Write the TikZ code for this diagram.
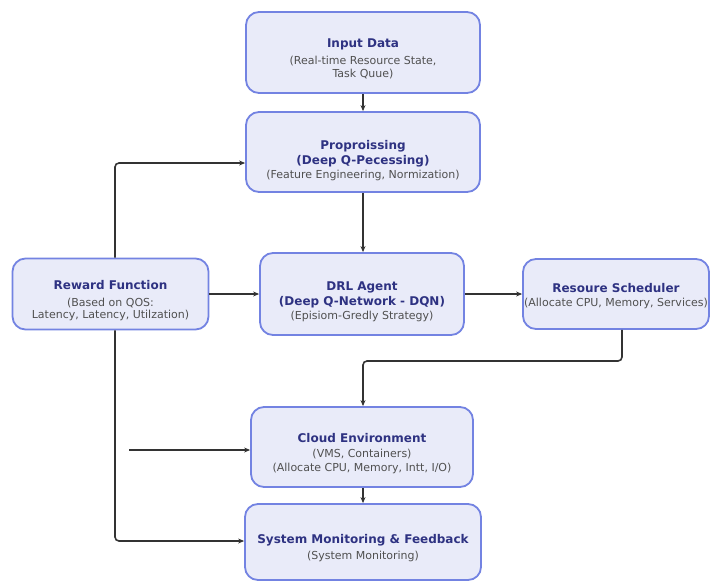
\documentclass[tikz,border=0pt]{standalone}
\usepackage{fontspec}
\setmainfont{DejaVu Sans}
\usetikzlibrary{arrows.meta,calc}
\definecolor{boxfill}{HTML}{E9EBF9}
\definecolor{boxdraw}{HTML}{7383E2}
\definecolor{titlec}{HTML}{2E3282}
\definecolor{subc}{HTML}{505050}
\definecolor{linec}{HTML}{333333}
\newcommand{\ttl}[1]{{\fontsize{12}{14.5}\selectfont\bfseries\color{titlec}#1}}
\newcommand{\sbl}[1]{{\fontsize{11}{14.5}\selectfont\color{subc}#1}}
\newcommand{\dn}[1]{\rule{0pt}{\dimexpr9.2pt+#1pt+#1pt\relax}}
\begin{document}
\begin{tikzpicture}[x=1pt,y=-1pt,
  box/.style={draw=boxdraw, fill=boxfill, line width=1.8pt, rounded corners=13pt,
    align=center, inner sep=0pt, font=\fontsize{11}{14.5}\selectfont},
  arr/.style={draw=linec, line width=1.6pt, rounded corners=4pt,
    -{Stealth[length=6pt,width=5pt]}}]
\useasboundingbox[fill=white] (0,0) rectangle (710,581);
\node[box, minimum width=234pt, minimum height=81pt] (inp) at (363,52.5)
  {\dn{6}\ttl{Input Data}\\[3pt]\sbl{(Real-time Resource State,}\\[-2pt]\sbl{Task Quue)}};
\node[box, minimum width=234pt, minimum height=80pt] (pre) at (363,152)
  {\dn{9}\ttl{Proproissing}\\\ttl{(Deep Q-Pecessing)}\\\sbl{(Feature Engineering, Normization)}};
\node[box, minimum width=204pt, minimum height=82pt] (drl) at (362,294)
  {\dn{8}\ttl{DRL Agent}\\\ttl{(Deep Q-Network - DQN)}\\\sbl{(Episiom-Gredly Strategy)}};
\node[box, minimum width=196pt, minimum height=71pt] (rew) at (110.5,294)
  {\dn{7}\ttl{Reward Function}\\[2pt]\sbl{(Based on QOS:}\\[-2pt]\sbl{Latency, Latency, Utilzation)}};
\node[box, minimum width=186pt, minimum height=70pt] (sch) at (616,294)
  {\dn{2}\ttl{Resoure Scheduler}\\\sbl{(Allocate CPU, Memory, Services)}};
\node[box, minimum width=222pt, minimum height=80pt] (cld) at (362,447)
  {\dn{7}\ttl{Cloud Environment}\\\sbl{(VMS, Containers)}\\\sbl{(Allocate CPU, Memory, Intt, I/O)}};
\node[box, minimum width=236pt, minimum height=76pt] (mon) at (363,542)
  {\dn{6}\ttl{System Monitoring \& Feedback}\\[2pt]\sbl{(System Monitoring)}};
\coordinate (rx) at (115,163);
\coordinate (rb) at (115,541);
\coordinate (free) at (129,450);
\coordinate (bend) at (622,361);
\coordinate (cx) at (363,0);
\draw[arr] (inp.south -| cx) -- (pre.north -| cx);
\draw[arr] (pre.south -| cx) -- (drl.north -| cx);
\draw[arr] (rew.east) -- (drl.west);
\draw[arr] (drl.east) -- (sch.west);
\draw[arr] (rew.north -| rx) |- (pre.west |- rx);
\draw[arr] (rew.south -| rb) |- (mon.west |- rb);
\draw[arr] (free) -- (cld.west |- free);
\draw[arr] (sch.south -| bend) -- (bend) -| (cld.north -| cx);
\draw[arr] (cld.south -| cx) -- (mon.north -| cx);
\end{tikzpicture}
\end{document}
